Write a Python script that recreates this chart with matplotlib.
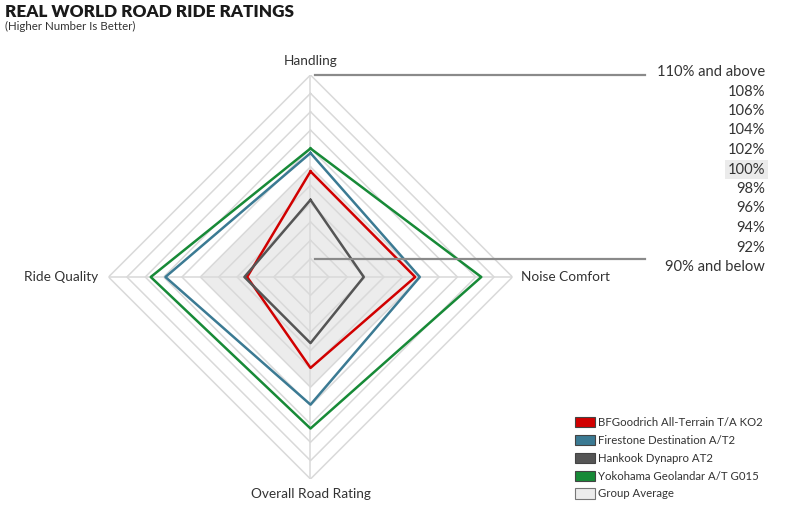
import numpy as np
import matplotlib.pyplot as plt
from matplotlib.patches import Patch
from matplotlib.lines import Line2D

plt.rcParams['font.family'] = ['Lato', 'DejaVu Sans']

# === Данные ===
categories = ["Handling", "Noise Comfort", "Overall Road Rating", "Ride Quality"]
bfgoodrich = [99.5, 99.4, 97.9, 94.9]
firestone = [101.5, 99.9, 101.9, 103.8]
hankook = [96.4, 93.8, 95.2, 95.2]
yokohama = [102.0, 106.6, 104.5, 105.4]
group_avg = [100, 100, 100, 100]

series_names = ["BFGoodrich All-Terrain T/A KO2", "Firestone Destination A/T2",
                "Hankook Dynapro AT2", "Yokohama Geolandar A/T G015"]
series_values = [bfgoodrich, firestone, hankook, yokohama]
series_colors = ["#d10000", "#3b7a93", "#555555", "#178a37"]

levels = [90, 92, 94, 96, 98, 100, 102, 104, 106, 108, 110]
scale_labels = ["110% and above", "108%", "106%", "104%", "102%", "100%",
                "98%", "96%", "94%", "92%", "90% and below"]

R_MIN, R_MAX = 88, 110
W, H = 790, 509
GRID = "#d9d9d9"
TXT = "#333333"

fig = plt.figure(figsize=(W / 100, H / 100), dpi=100)
ax = fig.add_axes([108.5 / W, 30 / H, 404 / W, 404 / H], polar=True)
ax.set_theta_offset(np.pi / 2)
ax.set_theta_direction(-1)
ax.set_ylim(R_MIN, R_MAX)
ax.grid(False)
ax.spines['polar'].set_visible(False)
ax.set_xticks([])
ax.set_yticks([])
ax.patch.set_alpha(0)

angles = np.linspace(0, 2 * np.pi, len(categories), endpoint=False)
closed = np.append(angles, angles[0])


def close(v):
    return list(v) + [v[0]]


# средняя по группе
ax.fill(closed, close(group_avg), color="#ececec", lw=0, zorder=1)

# сетка-ромбы и оси
for lv in levels:
    ax.plot(closed, [lv] * len(closed), color=GRID, lw=1.1, zorder=2)
for a in angles:
    ax.plot([a, a], [R_MIN, R_MAX], color=GRID, lw=1.1, zorder=2)

# серии
for vals, col in zip(series_values, series_colors):
    ax.plot(closed, close(vals), color=col, lw=1.8, zorder=3)

# подписи осей
offsets = [(0, 14, 'center', 'center'), (9, 0, 'left', 'center'),
           (0, -15, 'center', 'center'), (-10, 0, 'right', 'center')]
for a, name, (dx, dy, ha, va) in zip(angles, categories, offsets):
    ax.annotate(name, xy=(a, R_MAX), xytext=(dx * 0.72, dy * 0.72),
                textcoords='offset points', ha=ha, va=va, fontsize=9.8,
                color=TXT, annotation_clip=False)

# шкала справа
inv = fig.transFigure.inverted()
for lv in (R_MAX, 90):
    x0, y0 = ax.transData.transform((0, lv))
    p1 = inv.transform((x0 + 5, y0))
    p2 = inv.transform((645, y0))
    fig.add_artist(Line2D([p1[0], p2[0]], [p1[1], p2[1]], color="#8a8a8a",
                          lw=1.6, transform=fig.transFigure))

for i, lab in enumerate(scale_labels):
    y = 1 - (72 + i * 19.5) / H
    kw = {}
    if lab == "100%":
        kw['bbox'] = dict(boxstyle='square,pad=0.2', fc="#ebebeb", ec='none')
    fig.text(765 / W, y, lab, ha='right', va='center', fontsize=10.6,
             color=TXT, **kw)

# заголовок
fig.text(5 / W, 1 - 4 / H, "REAL WORLD ROAD RIDE RATINGS", ha='left', va='top',
         fontsize=12.3, fontweight='heavy', color="#1a1a1a")
fig.text(5 / W, 1 - 21 / H, "(Higher Number Is Better)", ha='left', va='top',
         fontsize=8.3, color=TXT)

# легенда
handles = [Patch(facecolor=c, edgecolor="#444444", lw=0.8) for c in series_colors]
handles.append(Patch(facecolor="#ececec", edgecolor="#777777", lw=0.8))
fig.legend(handles, series_names + ["Group Average"], loc='upper left',
           bbox_to_anchor=(575 / W, 1 - 417 / H), frameon=False, fontsize=8.2,
           handlelength=1.75, handleheight=1.0, handletextpad=0.3,
           labelspacing=0.6, borderpad=0, borderaxespad=0, labelcolor=TXT)

fig.savefig("out.png", dpi=100)
